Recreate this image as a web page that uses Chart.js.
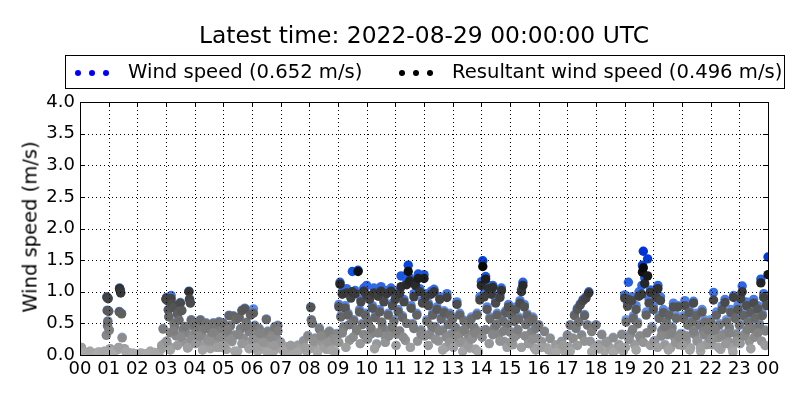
<!DOCTYPE html>
<html>
<head>
<meta charset="utf-8">
<script src="https://cdn.jsdelivr.net/npm/chart.js@4/dist/chart.umd.min.js"></script>
<style>
  body{margin:0;background:#fff;font-family:"DejaVu Sans",sans-serif;}
  #wrap{position:relative;width:800px;height:400px;overflow:hidden;}
  #title{position:absolute;left:24px;width:800px;top:20px;text-align:center;font-size:23.4px;line-height:30px;color:#000;}
  #legend{position:absolute;left:65px;top:55px;width:718px;height:32px;border:1px solid #000;font-size:19.6px;color:#000;}
  .item{position:absolute;top:0;height:32px;line-height:32px;white-space:nowrap;}
  .dot{position:absolute;top:14px;width:6px;height:6px;border-radius:50%;}
  #ylab{position:absolute;left:30px;top:227px;transform:translate(-50%,-50%) rotate(-90deg);font-size:19.5px;white-space:nowrap;}
  canvas{position:absolute;left:0;top:0;}
</style>
</head>
<body>
<div id="wrap">
  <canvas id="graph" width="800" height="400"></canvas>
  <div id="title">Latest time: 2022-08-29 00:00:00 UTC</div>
  <div id="legend"></div>
  <div id="ylab">Wind speed (m/s)</div>
</div>
<script>
// sample times in hours of the day
const hours = [
  0.05,0.15,0.25,0.35,0.45,0.55,0.65,0.75,0.85,0.92,0.94,0.95,0.96,0.97,0.98,
  1.00,1.02,1.05,1.15,1.30,1.37,1.38,1.40,1.42,1.45,1.47,1.55,1.70,1.85,
  2.00,2.15,2.30,2.45,2.60,2.75,2.85,2.90,2.95,
  3.00,3.02,3.05,3.08,3.10,3.12,3.15,3.18,3.20,3.25,3.28,3.30,3.35,3.40,3.45,3.50,3.55,3.60,3.65,3.70,3.75,3.80,3.82,3.85,3.88,3.90,3.95,
  4.00,4.05,4.10,4.15,4.20,4.25,4.30,4.35,4.40,4.45,4.50,4.55,4.60,4.65,4.70,4.75,4.80,4.85,4.90,4.95,
  5.00,5.05,5.10,5.15,5.20,5.25,5.30,5.35,5.40,5.45,5.50,5.55,5.60,5.65,5.70,5.75,5.80,5.85,5.90,5.95,
  6.00,6.05,6.10,6.15,6.20,6.25,6.30,6.40,6.45,6.50,6.55,6.60,6.70,6.75,6.80,6.85,6.90,6.95,
  7.00,7.10,7.20,7.30,7.40,7.50,7.60,7.70,7.80,7.90,7.95,
  8.05,8.07,8.10,8.15,8.20,8.30,8.35,8.45,8.55,8.60,8.70,8.75,8.85,8.90,8.95,
  9.00,9.03,9.07,9.10,9.15,9.20,9.25,9.30,9.35,9.40,9.45,9.50,9.55,9.60,9.65,9.70,9.75,9.80,9.85,9.90,9.95,
  10.00,10.05,10.10,10.15,10.20,10.25,10.30,10.35,10.40,10.45,10.50,10.55,10.60,10.65,10.70,10.75,10.80,10.85,10.90,10.95,
  11.00,11.05,11.10,11.15,11.20,11.25,11.30,11.35,11.40,11.45,11.50,11.55,11.60,11.65,11.70,11.75,11.80,11.85,11.90,11.95,
  12.00,12.05,12.10,12.15,12.20,12.25,12.30,12.35,12.40,12.45,12.50,12.55,12.60,12.65,12.70,12.75,12.80,12.85,12.90,12.95,
  13.00,13.05,13.10,13.15,13.20,13.25,13.30,13.35,13.40,13.45,13.50,13.55,13.60,13.65,13.70,13.75,13.80,13.85,13.90,13.95,
  14.00,14.05,14.10,14.15,14.20,14.25,14.30,14.35,14.40,14.45,14.50,14.55,14.60,14.65,14.70,14.75,14.80,14.85,14.90,14.95,
  15.00,15.05,15.10,15.15,15.20,15.25,15.30,15.35,15.40,15.45,15.50,15.55,15.60,15.65,15.70,15.75,15.80,15.85,15.90,15.95,
  16.00,16.10,16.20,16.30,16.40,16.50,16.60,16.70,16.80,16.90,
  17.00,17.05,17.10,17.20,17.25,17.30,17.35,17.40,17.45,17.50,17.55,17.60,17.65,17.70,17.75,17.80,17.85,17.95,
  18.00,18.10,18.20,18.30,18.40,18.50,18.60,18.70,18.80,18.90,18.95,
  19.00,19.05,19.10,19.13,19.20,19.25,19.30,19.35,19.40,19.45,19.50,19.55,19.60,19.62,19.65,19.70,19.75,19.80,19.85,19.90,19.95,
  20.00,20.05,20.10,20.16,20.20,20.25,20.30,20.35,20.40,20.45,20.50,20.55,20.60,20.65,20.70,20.75,20.80,20.86,20.90,20.95,
  21.00,21.05,21.10,21.15,21.20,21.25,21.30,21.35,21.40,21.45,21.50,21.55,21.60,21.65,21.70,21.75,21.80,21.85,21.90,21.95,
  22.00,22.05,22.10,22.15,22.20,22.25,22.30,22.35,22.40,22.45,22.50,22.55,22.60,22.65,22.70,22.75,22.80,22.85,22.90,22.95,
  23.00,23.05,23.10,23.15,23.20,23.25,23.30,23.35,23.40,23.45,23.50,23.55,23.60,23.65,23.70,23.75,23.80,23.85,23.90,23.95,24.00
]
// wind speed (m/s)
const windSpeed = [
  0.12,0.05,0.03,0.04,0.02,0.03,0.05,0.04,0.06,0.32,0.92,0.71,0.47,0.54,0.90,
  0.70,0.40,0.10,0.05,0.08,0.69,1.06,1.03,0.99,0.66,0.28,0.10,0.04,0.03,
  0.02,0.03,0.02,0.06,0.03,0.02,0.10,0.42,0.19,
  0.89,0.91,0.87,0.72,0.61,0.13,0.36,0.94,0.82,0.76,0.51,0.46,0.31,0.66,0.56,0.83,0.71,0.41,0.21,0.36,0.11,1.01,0.89,0.83,0.56,0.31,0.46,
  0.51,0.36,0.21,0.46,0.56,0.31,0.41,0.16,0.51,0.26,0.43,0.11,0.36,0.51,0.21,0.46,0.31,0.53,0.13,0.41,
  0.51,0.27,0.09,0.37,0.63,0.47,0.22,0.62,0.32,0.57,0.06,0.60,0.42,0.71,0.27,0.74,0.52,0.17,0.38,0.64,
  0.11,0.73,0.47,0.33,0.06,0.42,0.22,0.32,0.09,0.57,0.38,0.16,0.32,0.06,0.45,0.27,0.47,0.11,
  0.21,0.06,0.13,0.04,0.09,0.05,0.16,0.11,0.23,0.06,0.31,
  0.76,0.56,0.51,0.13,0.27,0.06,0.43,0.20,0.33,0.09,0.38,0.17,0.28,0.06,0.34,
  0.34,0.80,1.15,0.62,1.00,0.45,0.78,1.05,0.66,0.24,0.94,1.32,0.56,1.02,0.40,1.34,0.72,0.88,0.50,1.06,0.66,
  1.10,0.56,0.92,0.35,0.78,1.06,0.62,0.18,0.97,0.72,1.08,0.45,0.88,0.30,1.02,0.66,0.40,1.06,0.82,0.56,
  0.92,0.35,0.72,1.02,1.25,0.62,0.88,0.24,1.16,1.42,1.22,0.78,0.50,0.97,1.15,0.66,1.28,1.05,0.40,0.86,
  1.27,0.97,0.56,0.82,0.34,1.01,0.66,1.04,0.45,0.76,0.23,0.92,0.60,0.40,0.70,0.12,0.97,0.50,0.66,0.34,
  0.60,0.17,0.44,0.84,0.28,0.66,0.38,0.06,0.55,0.22,0.50,0.33,0.11,0.60,0.28,0.44,0.09,0.66,0.38,0.92,
  1.16,1.49,0.97,1.24,0.76,1.10,0.60,1.01,1.10,0.44,0.86,0.66,0.33,0.96,1.06,0.55,0.22,0.70,0.50,0.80,
  0.38,0.66,0.17,0.55,0.76,0.33,0.60,0.86,1.04,1.15,0.80,0.50,0.65,0.22,0.55,0.38,0.60,0.11,0.44,0.27,
  0.48,0.22,0.38,0.11,0.27,0.06,0.16,0.11,0.22,0.06,
  0.32,0.13,0.48,0.27,0.64,0.43,0.74,0.53,0.81,0.32,0.88,0.64,0.92,0.48,1.00,0.22,0.38,0.11,
  0.48,0.17,0.33,0.06,0.22,0.11,0.28,0.09,0.17,0.33,0.06,
  0.95,0.56,0.82,1.15,0.34,0.92,0.62,0.17,0.78,0.52,1.00,0.28,1.10,1.42,1.64,1.22,0.68,1.52,0.88,1.03,0.45,
  0.78,0.23,0.98,1.10,0.62,0.92,0.40,0.72,0.17,0.56,0.34,0.68,0.11,0.45,0.82,0.28,0.62,0.78,0.17,0.34,
  0.34,0.62,0.86,0.23,0.50,0.72,0.11,0.56,0.85,0.34,0.66,0.23,0.50,0.06,0.72,0.40,0.56,0.17,0.45,0.28,
  0.56,0.17,0.99,0.40,0.68,0.28,0.50,0.09,0.78,0.34,0.88,0.56,0.23,0.45,0.72,0.11,0.94,0.62,0.34,0.78,
  0.50,0.95,1.09,0.66,0.34,0.84,0.56,0.23,0.72,0.45,0.88,0.62,0.34,0.78,0.50,1.20,0.66,0.97,0.40,0.84,1.55
]
// resultant (vector averaged) wind speed (m/s)
const resultantSpeed = [
  0.12,0.05,0.03,0.04,0.02,0.03,0.05,0.04,0.06,0.31,0.91,0.70,0.46,0.53,0.89,
  0.69,0.39,0.10,0.05,0.08,0.68,1.05,1.02,0.98,0.65,0.27,0.10,0.04,0.03,
  0.02,0.03,0.02,0.06,0.03,0.02,0.10,0.41,0.18,
  0.88,0.90,0.86,0.71,0.60,0.13,0.35,0.89,0.81,0.75,0.50,0.45,0.30,0.65,0.55,0.82,0.70,0.40,0.20,0.35,0.11,1.00,0.88,0.82,0.55,0.30,0.45,
  0.50,0.35,0.20,0.45,0.55,0.30,0.40,0.15,0.50,0.25,0.42,0.10,0.35,0.50,0.20,0.45,0.30,0.52,0.12,0.40,
  0.50,0.26,0.09,0.36,0.62,0.46,0.21,0.61,0.31,0.56,0.06,0.59,0.41,0.70,0.26,0.73,0.51,0.16,0.37,0.63,
  0.11,0.66,0.46,0.32,0.06,0.41,0.21,0.31,0.09,0.56,0.37,0.15,0.31,0.06,0.44,0.26,0.46,0.11,
  0.20,0.06,0.13,0.04,0.09,0.05,0.15,0.11,0.22,0.06,0.30,
  0.75,0.55,0.50,0.13,0.26,0.06,0.41,0.19,0.32,0.09,0.37,0.16,0.27,0.06,0.33,
  0.32,0.76,1.12,0.60,0.96,0.43,0.74,0.98,0.63,0.23,0.90,1.00,0.54,0.97,0.38,1.32,0.68,0.84,0.48,1.01,0.63,
  0.95,0.53,0.88,0.33,0.74,0.98,0.59,0.17,0.93,0.68,1.01,0.43,0.84,0.29,0.97,0.63,0.38,1.01,0.78,0.53,
  0.88,0.33,0.68,0.97,1.08,0.59,0.84,0.23,1.11,1.32,1.17,0.74,0.48,0.92,1.10,0.63,1.21,1.00,0.38,0.82,
  1.21,0.92,0.53,0.78,0.32,0.96,0.63,1.00,0.43,0.72,0.22,0.88,0.57,0.38,0.67,0.12,0.91,0.48,0.63,0.32,
  0.57,0.16,0.42,0.80,0.27,0.63,0.36,0.06,0.53,0.21,0.48,0.32,0.11,0.57,0.27,0.42,0.09,0.63,0.36,0.87,
  1.10,1.40,0.92,1.20,0.72,1.05,0.57,0.96,1.07,0.42,0.82,0.63,0.32,0.91,1.02,0.53,0.21,0.67,0.48,0.76,
  0.36,0.63,0.16,0.53,0.72,0.32,0.57,0.82,1.00,1.10,0.76,0.48,0.62,0.21,0.53,0.36,0.57,0.11,0.42,0.26,
  0.47,0.21,0.37,0.11,0.26,0.06,0.16,0.11,0.21,0.06,
  0.31,0.13,0.47,0.26,0.62,0.42,0.72,0.52,0.79,0.31,0.86,0.62,0.90,0.47,0.98,0.21,0.37,0.11,
  0.47,0.16,0.32,0.06,0.21,0.11,0.27,0.09,0.16,0.32,0.06,
  0.90,0.52,0.77,0.88,0.32,0.86,0.58,0.16,0.72,0.49,0.93,0.27,0.96,1.31,1.38,1.13,0.63,1.25,0.82,0.99,0.42,
  0.72,0.22,0.91,1.05,0.58,0.86,0.38,0.67,0.16,0.52,0.32,0.63,0.11,0.42,0.76,0.27,0.58,0.76,0.16,0.32,
  0.32,0.58,0.78,0.22,0.47,0.67,0.11,0.52,0.82,0.32,0.62,0.22,0.47,0.06,0.68,0.38,0.52,0.16,0.42,0.27,
  0.52,0.16,0.87,0.38,0.63,0.27,0.47,0.09,0.72,0.32,0.83,0.52,0.22,0.42,0.67,0.11,0.91,0.58,0.32,0.72,
  0.47,0.89,1.00,0.62,0.32,0.78,0.52,0.22,0.67,0.42,0.82,0.58,0.32,0.73,0.47,1.14,0.62,0.91,0.38,0.78,1.27
]
// extra samples in the dense low band (steady wind: both speeds equal)
const bandHours = [
  0.10,0.35,0.60,0.85, 1.10,1.35,1.60,1.85, 2.10,2.35,2.60,2.85,
  3.025,3.15,3.275,3.40,3.525,3.65,3.775,3.90,
  4.025,4.15,4.275,4.40,4.525,4.65,4.775,4.90,
  5.025,5.15,5.275,5.40,5.525,5.65,5.775,5.90,
  6.025,6.15,6.275,6.40,6.525,6.65,6.775,6.90,
  7.10,7.35,7.60,7.85,
  8.025,8.15,8.275,8.40,8.525,8.65,8.775,8.90,
  9.025,9.15,9.275,9.40,9.525,9.65,9.775,9.90,
  10.025,10.15,10.275,10.40,10.525,10.65,10.775,10.90,
  11.025,11.15,11.275,11.40,11.525,11.65,11.775,11.90,
  12.025,12.15,12.275,12.40,12.525,12.65,12.775,12.90,
  13.025,13.15,13.275,13.40,13.525,13.65,13.775,13.90,
  14.025,14.15,14.275,14.40,14.525,14.65,14.775,14.90,
  15.025,15.15,15.275,15.40,15.525,15.65,15.775,15.90,
  16.10,16.35,16.60,16.85, 17.10,17.35,17.60,17.85, 18.10,18.35,18.60,18.85,
  19.025,19.15,19.275,19.40,19.525,19.65,19.775,19.90,
  20.025,20.15,20.275,20.40,20.525,20.65,20.775,20.90,
  21.025,21.15,21.275,21.40,21.525,21.65,21.775,21.90,
  22.025,22.15,22.275,22.40,22.525,22.65,22.775,22.90,
  23.025,23.15,23.275,23.40,23.525,23.65,23.775,23.90
]
const bandSpeed = [
  0.03,0.06,0.02,0.04, 0.02,0.12,0.05,0.02, 0.03,0.02,0.04,0.15,
  0.22,0.08,0.38,0.15,0.28,0.45,0.12,0.25,
  0.18,0.30,0.08,0.42,0.22,0.35,0.12,0.28,
  0.15,0.40,0.25,0.06,0.32,0.18,0.45,0.10,
  0.25,0.12,0.35,0.20,0.05,0.28,0.15,0.38,
  0.08,0.15,0.05,0.12,
  0.10,0.22,0.05,0.30,0.12,0.20,0.08,0.25,
  0.20,0.35,0.12,0.48,0.28,0.40,0.18,0.32,
  0.25,0.42,0.10,0.35,0.52,0.20,0.30,0.45,
  0.15,0.38,0.28,0.50,0.12,0.42,0.22,0.33,
  0.30,0.15,0.45,0.25,0.38,0.08,0.28,0.20,
  0.12,0.30,0.20,0.40,0.15,0.25,0.35,0.05,
  0.28,0.40,0.18,0.32,0.48,0.22,0.38,0.12,
  0.20,0.28,0.40,0.12,0.30,0.18,0.25,0.08,
  0.12,0.08,0.04,0.15, 0.06,0.15,0.22,0.05, 0.10,0.20,0.04,0.12,
  0.12,0.25,0.40,0.08,0.30,0.20,0.35,0.15,
  0.22,0.12,0.30,0.45,0.08,0.35,0.20,0.28,
  0.15,0.30,0.08,0.38,0.22,0.12,0.32,0.40,
  0.25,0.40,0.12,0.30,0.18,0.35,0.05,0.22,
  0.18,0.30,0.40,0.10,0.28,0.35,0.22,0.15
]
const seriesNames = ['Wind speed (0.652 m/s)','Resultant wind speed (0.496 m/s)']
const xTicks = [0,1,2,3,4,5,6,7,8,9,10,11,12,13,14,15,16,17,18,19,20,21,22,23,24]
const yTicks = [0,0.5,1,1.5,2,2.5,3,3.5,4]

function clamp(v){return Math.max(0,Math.min(255,Math.round(v)))}
function blueFor(v){return `rgb(${clamp(170-115*v)},${clamp(205-95*v)},${clamp(255-25*v)})`}
function greyFor(v){let g=clamp(172-118*v);return `rgb(${g},${g},${g})`}

// legend box, drawn the way matplotlib does it (three markers)
const legend=document.querySelector('#legend')
;[[12,'#0000ff',seriesNames[0],62],[336,'#000000',seriesNames[1],386]].forEach(([x0,col,txt,tx])=>{
    for(let k=0;k<3;k++){
        let d=document.createElement('div')
        d.className='dot';d.style.left=(x0+k*14-3)+'px';d.style.background=col
        legend.append(d)
    }
    let s=document.createElement('div')
    s.className='item';s.style.left=tx+'px';s.textContent=txt
    legend.append(s)
})

// matplotlib classic look: dotted grid over the markers, inward ticks, closed frame
const frame={
    id:'frame',
    afterDatasetsDraw(chart){
        const {ctx,chartArea:a,scales:{x,y}}=chart
        ctx.save()
        ctx.strokeStyle='#000';ctx.lineWidth=1
        ctx.setLineDash([1,3])
        ctx.beginPath()
        xTicks.forEach(h=>{
            let px=Math.round(x.getPixelForValue(h))+0.5
            ctx.moveTo(px,a.top);ctx.lineTo(px,a.bottom)
        })
        yTicks.forEach(v=>{
            let py=Math.round(y.getPixelForValue(v))+0.5
            ctx.moveTo(a.left,py);ctx.lineTo(a.right,py)
        })
        ctx.stroke()
        ctx.setLineDash([])
        ctx.beginPath()
        xTicks.forEach(h=>{
            let px=Math.round(x.getPixelForValue(h))+0.5
            ctx.moveTo(px,a.bottom);ctx.lineTo(px,a.bottom-5)
            ctx.moveTo(px,a.top);ctx.lineTo(px,a.top+5)
        })
        yTicks.forEach(v=>{
            let py=Math.round(y.getPixelForValue(v))+0.5
            ctx.moveTo(a.left,py);ctx.lineTo(a.left+5,py)
            ctx.moveTo(a.right,py);ctx.lineTo(a.right-5,py)
        })
        ctx.stroke()
        ctx.strokeRect(Math.round(a.left)+0.5,Math.round(a.top)+0.5,Math.round(a.right-a.left),Math.round(a.bottom-a.top))
        ctx.restore()
    }
}

const wsData=[],rwsData=[]
hours.forEach((h,i)=>{
    wsData.push({x:h,y:windSpeed[i]})
    rwsData.push({x:h,y:resultantSpeed[i]})
})
bandHours.forEach((h,i)=>{
    wsData.push({x:h,y:bandSpeed[i]})
    rwsData.push({x:h,y:bandSpeed[i]})
})

new Chart('graph',{
    type:'scatter',
    data:{
        datasets:[
            {label:seriesNames[1],data:rwsData,order:0,clip:0,pointRadius:4.7,pointBorderWidth:0,
             backgroundColor:c=>greyFor(c.raw?c.raw.y:0)},
            {label:seriesNames[0],data:wsData,order:1,clip:0,pointRadius:4.7,pointBorderWidth:0,
             backgroundColor:c=>blueFor(c.raw?c.raw.y:0)}
        ]
    },
    plugins:[frame],
    options:{
        responsive:false,
        animation:false,
        layout:{padding:{top:102,right:32,left:0,bottom:0}},
        plugins:{legend:{display:false},tooltip:{enabled:false},title:{display:false}},
        scales:{
            x:{
                type:'linear',min:0,max:24,
                afterFit:s=>{s.height=45},
                afterBuildTicks:s=>{s.ticks=xTicks.map(h=>({value:h}))},
                ticks:{autoSkip:false,maxRotation:0,padding:4,color:'#000',
                    font:{family:'DejaVu Sans',size:18},
                    callback:v=>String(v%24).padStart(2,'0')},
                grid:{display:false,drawTicks:false},
                border:{display:false}
            },
            y:{
                min:0,max:4,
                afterFit:s=>{s.width=80},
                afterBuildTicks:s=>{s.ticks=yTicks.map(v=>({value:v}))},
                ticks:{padding:5,color:'#000',font:{family:'DejaVu Sans',size:18},
                    callback:v=>v.toFixed(1)},
                grid:{display:false,drawTicks:false},
                border:{display:false}
            }
        }
    }
})
</script>
</body>
</html>
